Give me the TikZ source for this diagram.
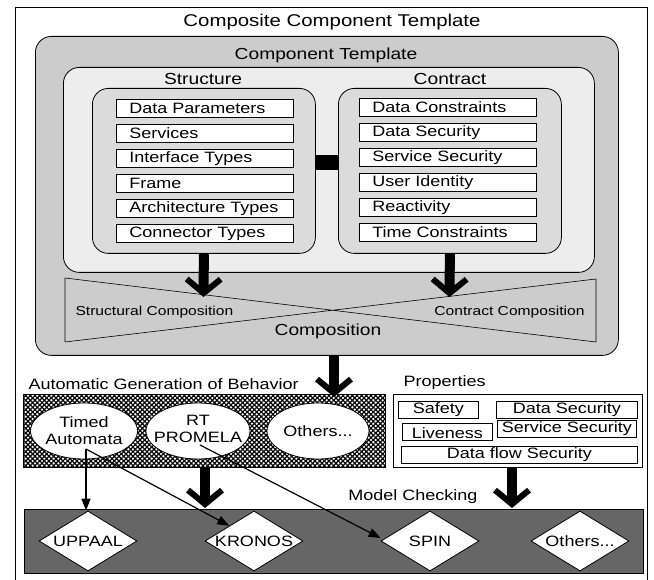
\documentclass[tikz,border=0pt]{standalone}
\usepackage{fontspec}
\setmainfont{Liberation Sans}[FakeStretch=1.2]
\usetikzlibrary{shapes.geometric,arrows.meta,patterns.meta}
\definecolor{outergray}{gray}{0.80}
\definecolor{lightbox}{gray}{0.93}
\definecolor{innerbox}{gray}{0.86}
\definecolor{darkrect}{gray}{0.40}
\begin{document}
\begin{tikzpicture}[x=1pt,y=-1pt,
  every node/.style={font=\fontsize{15}{17}\selectfont},
  box/.style={draw, line width=0.8pt, inner sep=0pt, anchor=north west},
  roundbox/.style={box, rounded corners=16pt},
  item/.style={draw, fill=white, line width=0.8pt, anchor=north west, minimum height=18pt,
    inner ysep=0pt, inner xsep=13pt, text width=151pt, align=left},
  pitem/.style={draw, fill=white, line width=0.8pt, anchor=north west, inner sep=0pt},
  bigarrow/.style={line width=10pt, -{Straight Barb[length=14pt,width=34pt,line width=6pt]}},
  thinarrow/.style={line width=1.2pt, -{Triangle[length=12pt,width=9pt]}},
  ellbox/.style={draw, fill=white, line width=0.8pt, ellipse, inner sep=0pt},
  diam/.style={draw, fill=white, line width=0.8pt, diamond, inner sep=0pt,
    minimum width=98pt, minimum height=60pt}
]
\useasboundingbox (0,0) rectangle (654,580);
% outer frame
\draw[line width=0.8pt] (15,585) -- (15,7) -- (647,7) -- (647,585);
\node (title) at (332,22) {\fontsize{17}{19}\selectfont Composite Component Template};
% component template
\node[roundbox, fill=outergray, minimum width=583pt, minimum height=319pt] (comp) at (35,36) {};
\node (comptitle) at (326,55) {\fontsize{16}{18}\selectfont Component Template};
\node[roundbox, fill=lightbox, minimum width=531pt, minimum height=205pt] (inner) at (63,67) {};
\node (structitle) at (203,79) {\fontsize{16}{18}\selectfont Structure};
\node (contitle) at (450,79) {\fontsize{16}{18}\selectfont Contract};
\node[roundbox, fill=innerbox, minimum width=223pt, minimum height=165pt] (struct) at (92,88) {};
\node[roundbox, fill=innerbox, minimum width=223pt, minimum height=165pt] (contract) at (338,88) {};
\node[fill=black, inner sep=0pt, minimum width=23pt, minimum height=15pt] (link) at (326.5,162.5) {};
% structure items
\node[item] (s1) at (116,99) {Data Parameters};
\node[item] (s2) at (116,124) {Services};
\node[item] (s3) at (116,149) {Interface Types};
\node[item] (s4) at (116,174) {Frame};
\node[item] (s5) at (116,199) {Architecture Types};
\node[item] (s6) at (116,224) {Connector Types};
% contract items
\node[item] (c1) at (359,98) {Data Constraints};
\node[item] (c2) at (359,123) {Data Security};
\node[item] (c3) at (359,148) {Service Security};
\node[item] (c4) at (359,173) {User Identity};
\node[item] (c5) at (359,198) {Reactivity};
\node[item] (c6) at (359,223) {Time Constraints};
% composition bow-tie
\coordinate (btl) at (65,278);
\coordinate (bbl) at (65,342);
\coordinate (btr) at (596,279);
\coordinate (bbr) at (596,342);
\draw[line width=0.6pt] (btl) -- (bbl) (btr) -- (bbr) (btl) -- (bbr) (bbl) -- (btr);
\node[anchor=west] (scomp) at (72,312) {\fontsize{13}{15}\selectfont Structural Composition};
\node[anchor=east] (ccomp) at (588,312) {\fontsize{13}{15}\selectfont Contract Composition};
\node (compo) at (328,331) {\fontsize{16}{18}\selectfont Composition};
\coordinate (sarr) at (203.5,297);
\coordinate (carr) at (449.5,297);
\draw[bigarrow] (struct.south) -- (sarr);
\draw[bigarrow] (contract.south) -- (carr);
% behaviour generation
\node[anchor=west] (agb) at (25,384) {Automatic Generation of Behavior};
\node[anchor=west] (props) at (400,383) {Properties};
\coordinate (cbot) at (334,355);
\coordinate (gtop) at (334,397);
\draw[bigarrow] (cbot) -- (gtop);
\node[box, minimum width=362pt, minimum height=73pt] (gen) at (23,394) {};
\fill[pattern={Lines[angle=45,distance=3.3pt,line width=1.2pt]}] (gen.north west) rectangle (gen.south east);
\fill[pattern={Lines[angle=-45,distance=3.3pt,line width=1.2pt]}] (gen.north west) rectangle (gen.south east);
\draw[line width=0.8pt] (gen.north west) rectangle (gen.south east);
\node[ellbox, minimum width=107pt, minimum height=56pt, align=center] (ta) at (84,431) {};
\node[align=center] (tatext) at (84,431) {Timed\\Automata};
\node[ellbox, minimum width=104pt, minimum height=56pt] (rt) at (198,431) {};
\node[align=center] (rttext) at (198,429) {RT\\PROMELA};
\node[ellbox, minimum width=102pt, minimum height=56pt] (oth) at (318,431) {};
\node (othtext) at (318,431) {Others...};
% properties
\node[box, fill=white, minimum width=249pt, minimum height=73pt] (propbox) at (393,394) {};
\node[pitem, minimum width=80pt, minimum height=17pt] (p1) at (398,401) {};
\node (p1t) at (p1.center) {Safety};
\node[pitem, minimum width=141pt, minimum height=17pt] (p2) at (496,401) {};
\node (p2t) at (p2.center) {Data Security};
\node[pitem, minimum width=90pt, minimum height=17pt] (p3) at (402,423) {};
\node (p3t) at ([yshift=-1pt]p3.center) {Liveness};
\node[pitem, minimum width=139pt, minimum height=17pt] (p4) at (497,420) {};
\node (p4t) at (p4.center) {Service Security};
\node[pitem, minimum width=236pt, minimum height=17pt] (p5) at (401,446) {};
\node (p5t) at (p5.center) {Data flow Security};
% model checking
\node[anchor=east] (mc) at (481,497) {Model Checking};
\coordinate (garr) at (205,508);
\coordinate (parr) at (512,508);
\draw[bigarrow] (gen.south -| garr) -- (garr);
\draw[bigarrow] (propbox.south -| parr) -- (parr);
\node[box, fill=darkrect, minimum width=619pt, minimum height=64pt] (mcbox) at (24,509) {};
\node[diam, label={center:UPPAAL}] (upp) at (88,541) {};
\node[diam, label={center:KRONOS}] (kro) at (254,541) {};
\node[diam, label={center:SPIN}] (spin) at (430,541) {};
\node[diam, label={center:Others...}] (oth2) at (580,541) {};
% thin arrows
\coordinate (tas) at (86,449);
\coordinate (rts) at (200,445);
\draw[thinarrow] (tas) -- (upp.north -| tas);
\draw[thinarrow] (tas) -- (kro.north west);
\draw[thinarrow] (rts) -- ([yshift=3pt]spin.west);
\end{tikzpicture}
\end{document}
